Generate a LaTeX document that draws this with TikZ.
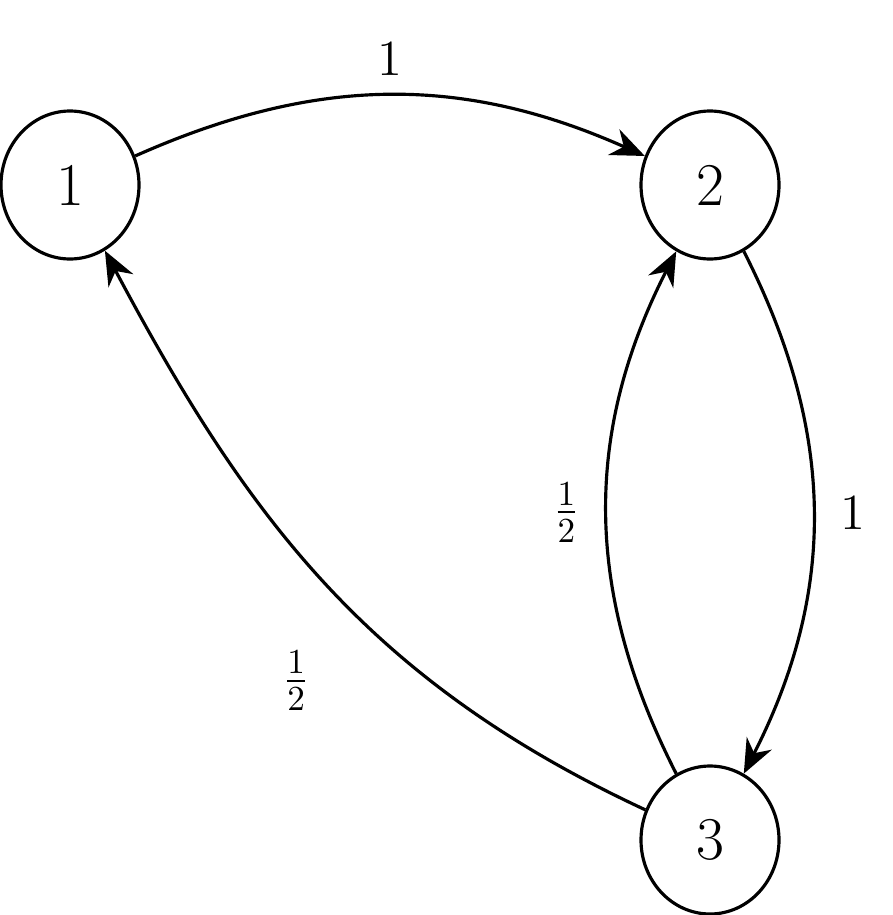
\documentclass[tikz,border=0pt]{standalone}
\usepackage{amsmath}
\usetikzlibrary{arrows.meta,shapes.geometric}
\begin{document}
\begin{tikzpicture}[>={Stealth[length=3.4mm,width=2.8mm]}, line width=0.9pt]
    \useasboundingbox (0,0) rectangle (8.93,-9.15);
    \tikzset{state/.style={draw, ellipse, minimum width=1.38cm, minimum height=1.48cm, font=\LARGE}}
    % States
    \node[state] (n1) at (0.70,-1.85) {1};
    \node[state] (n2) at (7.10,-1.85) {2};
    \node[state] (n3) at (7.10,-8.40) {3};
    
    % Transitions
    \draw[->] (n1) to[bend left=24] node[above=2pt, font=\Large] {1} (n2);
    \draw[->] (n2) to[bend left=27] node[right=4pt, font=\Large] {1} (n3);
    \draw[->] (n3) to[bend left=27] node[left=4pt, font=\Large] {$\frac{1}{2}$} (n2);
    \draw[->] (n3) to[out=155, in=-62] node[pos=0.45, below left=8pt, font=\Large] {$\frac{1}{2}$} (n1);
\end{tikzpicture}
\end{document}
